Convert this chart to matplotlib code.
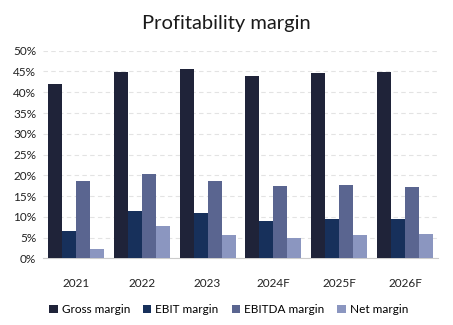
import matplotlib
matplotlib.use("Agg")
import matplotlib.pyplot as plt
import numpy as np
from matplotlib.ticker import FuncFormatter, MultipleLocator

years = ["2021", "2022", "2023", "2024F", "2025F", "2026F"]
gross_margin = [41.9, 44.8, 45.6, 43.9, 44.6, 44.8]
ebit_margin = [6.6, 11.4, 10.9, 9.0, 9.5, 9.5]
ebitda_margin = [18.6, 20.3, 18.6, 17.4, 17.6, 17.2]
net_margin = [2.2, 7.8, 5.6, 4.9, 5.6, 5.8]

series = [
    ("Gross margin", gross_margin, "#1f2339"),
    ("EBIT margin", ebit_margin, "#17305b"),
    ("EBITDA margin", ebitda_margin, "#5a6590"),
    ("Net margin", net_margin, "#8b96c0"),
]

plt.rcParams["font.family"] = ["Lato", "DejaVu Sans"]

fig = plt.figure(figsize=(4.53, 3.25), dpi=100)
ax = fig.add_axes([0.095, 0.205, 0.872, 0.639])

x = np.arange(len(years))
w = 0.85 / len(series)
for i, (name, vals, color) in enumerate(series):
    ax.bar(x - 0.425 + w * (i + 0.5), vals, width=w, color=color, label=name, zorder=3)

ax.set_xlim(-0.5, len(years) - 0.5)
ax.set_ylim(0, 50)
ax.yaxis.set_major_locator(MultipleLocator(5))
ax.yaxis.set_major_formatter(FuncFormatter(lambda v, _: f"{v:.0f}%"))
ax.set_xticks(x)
ax.set_xticklabels(years)

ax.grid(axis="y", color="#e3e3e3", linestyle=(0, (4, 3)), linewidth=0.8, zorder=0)
for s in ("top", "right", "left"):
    ax.spines[s].set_visible(False)
ax.spines["bottom"].set_color("#cccccc")
ax.tick_params(axis="both", length=0, labelsize=8.5, colors="#222222")
ax.tick_params(axis="x", pad=14)
ax.tick_params(axis="y", pad=5)

fig.suptitle("Profitability margin", y=0.955, fontsize=14.5, color="#1a1a1a")

ax.legend(loc="upper center", bbox_to_anchor=(0.47, -0.17), ncol=4, frameon=False,
          fontsize=8.5, handlelength=0.7, handleheight=0.7, handletextpad=0.35,
          columnspacing=1.1)

fig.savefig("out.png", dpi=100)
